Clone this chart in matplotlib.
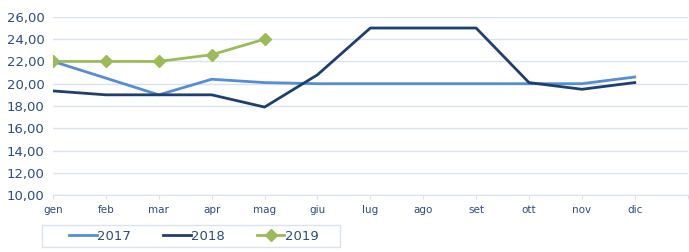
import matplotlib.pyplot as plt
from matplotlib.patches import Rectangle
from matplotlib.ticker import FuncFormatter

mesi = ['gen', 'feb', 'mar', 'apr', 'mag', 'giu', 'lug', 'ago', 'set', 'ott', 'nov', 'dic']
v2017 = [22.0, 20.5, 19.0, 20.4, 20.1, 20.0, 20.0, 20.0, 20.0, 20.0, 20.0, 20.6]
v2018 = [19.35, 19.0, 19.0, 19.0, 17.9, 20.8, 25.0, 25.0, 25.0, 20.1, 19.5, 20.1]
v2019 = [22.0, 22.0, 22.0, 22.6, 24.0]

grid_col = '#D9E2F0'
text_col = '#2E4C7D'

fig = plt.figure(figsize=(6.89, 2.52), dpi=100)
ax = fig.add_axes([0.077, 0.226, 0.921, 0.707])

x = list(range(len(mesi)))
ax.plot(x, v2017, color='#558ED5', lw=2.0, label='2017')
ax.plot(x, v2018, color='#1F3F6E', lw=2.0, label='2018')
ax.plot(x[:len(v2019)], v2019, color='#9BBB59', lw=2.0, marker='D', ms=6, label='2019')

ax.set_xlim(0, 12)
ax.set_ylim(10, 26)
ax.set_yticks(range(10, 27, 2))
ax.yaxis.set_major_formatter(FuncFormatter(lambda v, p: f'{v:.2f}'.replace('.', ',')))
ax.set_xticks(range(13))
ax.set_xticklabels(mesi + [''])
ax.grid(axis='y', color=grid_col, lw=1)
ax.set_axisbelow(True)
for s in ['top', 'right', 'left']:
    ax.spines[s].set_visible(False)
ax.spines['bottom'].set_color(grid_col)
ax.tick_params(axis='y', length=0, labelsize=9.5, colors=text_col, pad=6)
ax.tick_params(axis='x', length=3, color=grid_col, labelsize=7.5, labelcolor=text_col, pad=4)

# riquadro legenda
fig.patches.append(Rectangle((42 / 689, 1 - 247 / 252), 298 / 689, 22 / 252,
                             transform=fig.transFigure, fill=False, edgecolor=grid_col, lw=1))
leg = fig.legend(loc='center', bbox_to_anchor=(194 / 689, 1 - 236 / 252), ncol=3,
                 frameon=False, fontsize=9.5, handlelength=2.1, handletextpad=0.05,
                 columnspacing=2.4)
for t in leg.get_texts():
    t.set_color(text_col)

fig.savefig('out.png', dpi=100)
